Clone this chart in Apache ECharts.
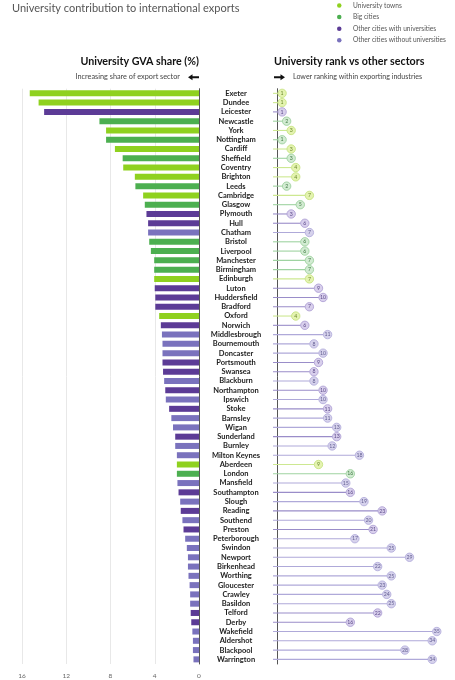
<!DOCTYPE html>
<html>
<head>
<meta charset="utf-8">
<script src="https://cdn.jsdelivr.net/npm/echarts@6/dist/echarts.min.js"></script>
<style>
  html, body { margin: 0; padding: 0; background: #fff; }
  #main { width: 455px; height: 680px; }
</style>
</head>
<body>
<div id="main"></div>
<script>
// city order, top to bottom
const cities = ['Exeter', 'Dundee', 'Leicester', 'Newcastle', 'York', 'Nottingham', 'Cardiff', 'Sheffield',
  'Coventry', 'Brighton', 'Leeds', 'Cambridge', 'Glasgow', 'Plymouth', 'Hull', 'Chatham', 'Bristol',
  'Liverpool', 'Manchester', 'Birmingham', 'Edinburgh', 'Luton', 'Huddersfield', 'Bradford', 'Oxford',
  'Norwich', 'Middlesbrough', 'Bournemouth', 'Doncaster', 'Portsmouth', 'Swansea', 'Blackburn',
  'Northampton', 'Ipswich', 'Stoke', 'Barnsley', 'Wigan', 'Sunderland', 'Burnley', 'Milton Keynes',
  'Aberdeen', 'London', 'Mansfield', 'Southampton', 'Slough', 'Reading', 'Southend', 'Preston',
  'Peterborough', 'Swindon', 'Newport', 'Birkenhead', 'Worthing', 'Gloucester', 'Crawley', 'Basildon',
  'Telford', 'Derby', 'Wakefield', 'Aldershot', 'Blackpool', 'Warrington'];

// university GVA share (%)
const gvaShare = [15.3, 14.5, 14.0, 9.0, 8.4, 8.4, 7.6, 6.9, 6.85, 5.8, 5.75, 5.05, 4.9, 4.75, 4.6, 4.6, 4.5,
  4.35, 4.05, 4.05, 4.05, 4.0, 3.95, 3.95, 3.6, 3.45, 3.35, 3.3, 3.3, 3.3, 3.25, 3.15, 3.05, 3.0, 2.7,
  2.5, 2.35, 2.15, 2.15, 2.0, 2.0, 2.0, 1.95, 1.85, 1.7, 1.65, 1.5, 1.4, 1.25, 1.1, 1.0, 1.0, 0.95, 0.85,
  0.8, 0.8, 0.75, 0.7, 0.6, 0.55, 0.55, 0.5];

// university rank vs other sectors
const uniRank = [1, 1, 1, 2, 3, 1, 3, 3, 4, 4, 2, 7, 5, 3, 6, 7, 6, 6, 7, 7, 7, 9, 10, 7, 4, 6, 11, 8, 10, 9,
  8, 8, 10, 10, 11, 11, 13, 13, 12, 18, 9, 16, 15, 16, 19, 23, 20, 21, 17, 25, 29, 22, 25, 23, 24, 25, 22,
  16, 35, 34, 28, 34];

// 0 university towns, 1 big cities, 2 other with universities, 3 other without universities
const cityGroup = [0, 0, 2, 1, 0, 1, 0, 1, 0, 0, 1, 0, 1, 2, 2, 3, 1, 1, 1, 1, 0, 2, 2, 2, 0, 2, 3, 3, 3, 2,
  2, 3, 2, 3, 2, 3, 3, 2, 3, 3, 0, 1, 3, 2, 3, 2, 3, 2, 3, 3, 3, 3, 3, 3, 3, 3, 2, 2, 3, 3, 3, 3];

const groupNames = ['University towns', 'Big cities', 'Other cities with universities', 'Other cities without universities'];
const gvaTicks = [0, 4, 8, 12, 16];

const barColors = ['#8fd11f', '#4caf50', '#5c3b96', '#7a72bd'];
// lollipop styles: fill, stroke, line, text
const popStyle = [
  { fill: '#e4f3b0', stroke: '#c3e17a', line: '#cde891', text: '#6b8a2c' },
  { fill: '#d2ebd2', stroke: '#95cd97', line: '#9fd3a1', text: '#3f7a43' },
  { fill: '#d8cfec', stroke: '#a99bd2', line: '#9a8dc9', text: '#5c4a8a' },
  { fill: '#d6d2ec', stroke: '#aea8d9', line: '#afa9d9', text: '#625d92' }
];

const myChart = echarts.init(document.getElementById('main'));

const barSeries = groupNames.map((name, g) => ({
  name: name,
  type: 'bar',
  stack: 'gva',
  xAxisIndex: 0,
  yAxisIndex: 0,
  barWidth: 6,
  itemStyle: { color: barColors[g] },
  data: gvaShare.map((v, i) => cityGroup[i] === g ? v : '-')
}));

const popData = uniRank.map((r, i) => [r, i, cityGroup[i]]);

const option = {
  animation: false,
  title: [
    {
      text: 'University contribution to international exports',
      left: 12, top: 3, padding: 0,
      textStyle: { fontFamily: 'Lato', fontSize: 11, fontWeight: 'normal', color: '#555' }
    },
    {
      text: 'University GVA share (%)',
      right: 256, top: 56, padding: 0,
      textStyle: { fontFamily: 'Lato', fontSize: 10.7, fontWeight: 'bold', color: '#111' }
    },
    {
      text: 'University rank vs other sectors',
      left: 274, top: 56, padding: 0,
      textStyle: { fontFamily: 'Lato', fontSize: 10.7, fontWeight: 'bold', color: '#111' }
    },
    {
      text: 'Increasing share of export sector',
      right: 275, top: 73, padding: 0,
      textStyle: { fontFamily: 'Lato', fontSize: 7.3, fontWeight: 'normal', color: '#444' }
    },
    {
      text: 'Lower ranking within exporting industries',
      left: 293, top: 73, padding: 0,
      textStyle: { fontFamily: 'Lato', fontSize: 7.1, fontWeight: 'normal', color: '#444' }
    }
  ],
  legend: {
    orient: 'vertical',
    left: 337, top: 1.5, padding: 0,
    icon: 'circle',
    itemWidth: 4.5, itemHeight: 4.5,
    itemGap: 3.6,
    selectedMode: false,
    data: groupNames,
    textStyle: { fontFamily: 'Lato', fontSize: 6.6, color: '#555', lineHeight: 8, padding: [0, 0, 0, 6.5] }
  },
  graphic: [
    { type: 'polygon', shape: { points: [[188, 77.3], [192.5, 74.3], [192.5, 76.3], [199, 76.3], [199, 78.3], [192.5, 78.3], [192.5, 80.3]] }, style: { fill: '#111' } },
    { type: 'polygon', shape: { points: [[285, 77.3], [280.5, 74.3], [280.5, 76.3], [274, 76.3], [274, 78.3], [280.5, 78.3], [280.5, 80.3]] }, style: { fill: '#111' } }
  ],
  grid: [
    { left: 22, right: 256, top: 88.7, bottom: 16 },
    { left: 273, right: 0, top: 88.7, bottom: 16 }
  ],
  xAxis: [
    {
      gridIndex: 0, type: 'value', inverse: true,
      min: gvaTicks[0], max: gvaTicks[gvaTicks.length - 1], interval: 4,
      axisLine: { show: false }, axisTick: { show: false },
      splitLine: { lineStyle: { color: '#e8e8e8', width: 1 } },
      axisLabel: { margin: 8, fontFamily: 'Lato', fontSize: 6.5, color: '#666' }
    },
    {
      gridIndex: 1, type: 'value', min: -1, max: 39, show: false
    }
  ],
  yAxis: [
    {
      gridIndex: 0, type: 'category', inverse: true, position: 'right',
      data: cities,
      axisLine: { show: true, lineStyle: { color: '#555', width: 1 } },
      axisTick: { show: false },
      axisLabel: {
        align: 'center', margin: 37, interval: 0,
        fontFamily: 'Lato', fontSize: 7.5, fontWeight: 'bold', color: '#222'
      }
    },
    {
      gridIndex: 1, type: 'category', inverse: true, position: 'left',
      data: cities,
      axisLine: { show: true, lineStyle: { color: '#555', width: 1 } },
      axisTick: { show: false },
      axisLabel: { show: false }
    }
  ],
  series: barSeries.concat([
    {
      type: 'custom',
      xAxisIndex: 1,
      yAxisIndex: 1,
      encode: { x: 0, y: 1 },
      data: popData,
      renderItem: (params, api) => {
        const row = api.value(1);
        const s = popStyle[api.value(2)];
        const p0 = api.coord([-1, row]);
        const p1 = api.coord([api.value(0), row]);
        const r = 4.2;
        return {
          type: 'group',
          children: [
            { type: 'line', shape: { x1: p0[0], y1: p0[1], x2: p1[0] - r, y2: p1[1] }, style: { stroke: s.line, lineWidth: 1.1 } },
            { type: 'circle', shape: { cx: p1[0], cy: p1[1], r: r }, style: { fill: s.fill, stroke: s.stroke, lineWidth: 0.8 } },
            {
              type: 'text', x: p1[0], y: p1[1],
              style: { text: String(api.value(0)), fontFamily: 'Lato', fontSize: 5.2, fill: s.text, align: 'center', verticalAlign: 'middle' }
            }
          ]
        };
      }
    }
  ])
};

myChart.setOption(option);
</script>
</body>
</html>
